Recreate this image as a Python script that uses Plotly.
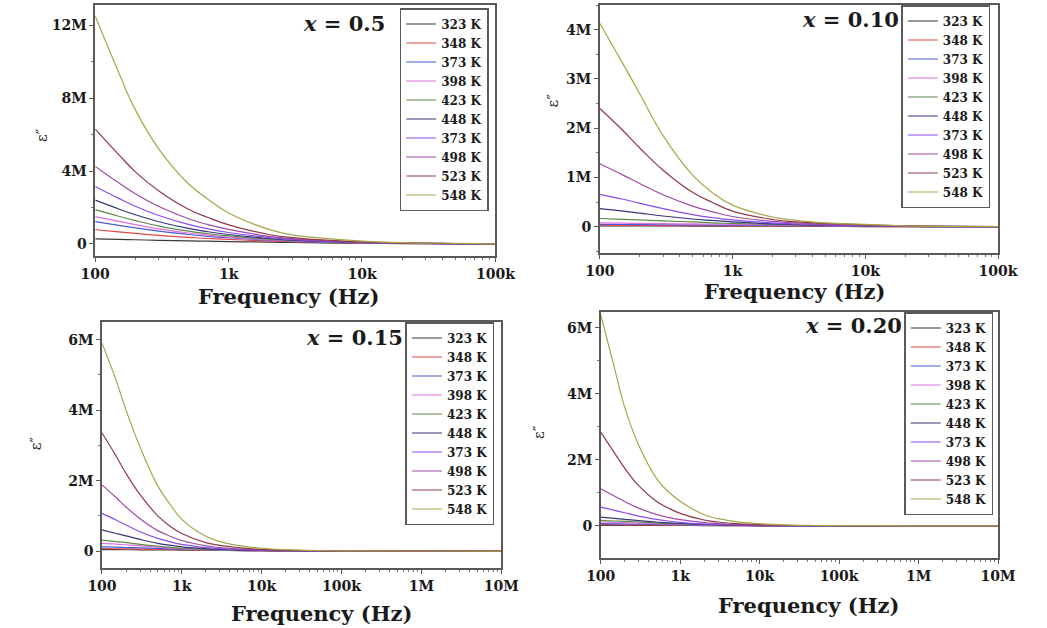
import plotly.graph_objects as go

# ---------------- data (values in millions) ----------------
LABELS = ["323 K", "348 K", "373 K", "398 K", "423 K", "448 K", "373 K", "498 K", "523 K", "548 K"]
COLORS = ["#3a3a3a", "#e04848", "#4a5ad8", "#e070e0", "#5f8a4a", "#36367a",
          "#8a4cf0", "#a04aa8", "#8e3a48", "#a6a64a"]

FREQ_A = [100, 150, 200, 300, 500, 700, 1e3, 2e3, 3e3, 5e3, 1e4, 2e4, 5e4, 1e5]
FREQ_B = [100, 150, 200, 300, 500, 700, 1e3, 2e3, 3e3, 5e3, 1e4, 2e4, 5e4, 1e5, 1e6, 1e7]

# x = 0.5
p1_323 = [0.28, 0.25, 0.23, 0.2, 0.17, 0.15, 0.13, 0.1, 0.08, 0.06, 0.04, 0.02, 0.01, 0.005]
p1_348 = [0.78, 0.66, 0.58, 0.47, 0.36, 0.3, 0.25, 0.16, 0.12, 0.09, 0.05, 0.03, 0.015, 0.01]
p1_373 = [1.22, 1.02, 0.88, 0.7, 0.52, 0.42, 0.34, 0.21, 0.15, 0.1, 0.06, 0.03, 0.015, 0.01]
p1_398 = [1.5, 1.24, 1.06, 0.83, 0.6, 0.48, 0.38, 0.23, 0.17, 0.12, 0.07, 0.04, 0.02, 0.01]
p1_423 = [1.88, 1.52, 1.28, 0.98, 0.7, 0.56, 0.44, 0.26, 0.19, 0.13, 0.07, 0.04, 0.02, 0.01]
p1_448 = [2.4, 1.92, 1.6, 1.22, 0.85, 0.67, 0.52, 0.3, 0.21, 0.14, 0.08, 0.04, 0.02, 0.01]
p1_473 = [3.15, 2.5, 2.07, 1.56, 1.07, 0.83, 0.63, 0.35, 0.25, 0.16, 0.09, 0.04, 0.02, 0.01]
p1_498 = [4.25, 3.35, 2.75, 2.05, 1.38, 1.06, 0.8, 0.42, 0.29, 0.19, 0.1, 0.05, 0.02, 0.01]
p1_523 = [6.3, 4.9, 3.95, 2.9, 1.9, 1.45, 1.05, 0.52, 0.35, 0.22, 0.11, 0.05, 0.02, 0.01]
p1_548 = [12.5, 9.4, 7.35, 5.2, 3.3, 2.45, 1.7, 0.8, 0.5, 0.32, 0.16, 0.07, 0.03, 0.01]

# x = 0.10
p2_323 = [0.02, 0.02, 0.019, 0.018, 0.017, 0.016, 0.015, 0.013, 0.011, 0.009, 0.006, 0.004, 0.002, 0.001]
p2_348 = [0.03, 0.029, 0.028, 0.027, 0.025, 0.024, 0.022, 0.018, 0.016, 0.013, 0.009, 0.005, 0.003, 0.001]
p2_373 = [0.05, 0.048, 0.046, 0.043, 0.04, 0.037, 0.034, 0.028, 0.024, 0.02, 0.012, 0.007, 0.003, 0.002]
p2_398 = [0.08, 0.075, 0.07, 0.065, 0.06, 0.055, 0.05, 0.04, 0.03, 0.025, 0.015, 0.008, 0.004, 0.002]
p2_423 = [0.17, 0.15, 0.14, 0.12, 0.1, 0.08, 0.07, 0.05, 0.04, 0.03, 0.02, 0.01, 0.005, 0.002]
p2_448 = [0.37, 0.32, 0.28, 0.22, 0.16, 0.13, 0.1, 0.06, 0.045, 0.03, 0.02, 0.01, 0.005, 0.003]
p2_473 = [0.66, 0.56, 0.48, 0.37, 0.25, 0.19, 0.14, 0.08, 0.06, 0.04, 0.025, 0.012, 0.006, 0.003]
p2_498 = [1.28, 1.05, 0.88, 0.65, 0.42, 0.31, 0.21, 0.11, 0.08, 0.05, 0.03, 0.015, 0.008, 0.004]
p2_523 = [2.4, 1.95, 1.6, 1.15, 0.7, 0.5, 0.32, 0.15, 0.1, 0.07, 0.04, 0.02, 0.01, 0.005]
p2_548 = [4.13, 3.3, 2.7, 1.85, 1.05, 0.7, 0.44, 0.2, 0.13, 0.08, 0.05, 0.02, 0.01, 0.005]

# x = 0.15
p3_323 = [0.04, 0.039, 0.038, 0.036, 0.033, 0.031, 0.029, 0.023, 0.019, 0.014, 0.009, 0.005, 0.002, 0.001, 0.0005, 0.0003]
p3_348 = [0.07, 0.066, 0.063, 0.058, 0.05, 0.045, 0.04, 0.03, 0.024, 0.016, 0.01, 0.006, 0.003, 0.001, 0.0005, 0.0003]
p3_373 = [0.12, 0.11, 0.1, 0.09, 0.075, 0.065, 0.055, 0.038, 0.028, 0.018, 0.011, 0.006, 0.003, 0.002, 0.001, 0.0005]
p3_398 = [0.22, 0.2, 0.18, 0.15, 0.11, 0.09, 0.07, 0.045, 0.032, 0.02, 0.012, 0.007, 0.003, 0.002, 0.001, 0.0005]
p3_423 = [0.31, 0.27, 0.24, 0.19, 0.14, 0.11, 0.08, 0.05, 0.035, 0.022, 0.013, 0.008, 0.004, 0.002, 0.001, 0.0005]
p3_448 = [0.6, 0.5, 0.43, 0.33, 0.22, 0.17, 0.12, 0.07, 0.05, 0.03, 0.018, 0.01, 0.005, 0.002, 0.001, 0.0005]
p3_473 = [1.07, 0.88, 0.74, 0.55, 0.36, 0.27, 0.19, 0.1, 0.07, 0.045, 0.025, 0.013, 0.006, 0.003, 0.001, 0.0005]
p3_498 = [1.88, 1.52, 1.25, 0.92, 0.58, 0.43, 0.3, 0.15, 0.1, 0.06, 0.035, 0.018, 0.008, 0.004, 0.001, 0.0005]
p3_523 = [3.35, 2.7, 2.2, 1.6, 1.0, 0.72, 0.5, 0.24, 0.16, 0.1, 0.05, 0.025, 0.01, 0.005, 0.001, 0.0005]
p3_548 = [5.9, 4.85, 4.0, 2.95, 1.85, 1.35, 0.9, 0.42, 0.27, 0.16, 0.08, 0.04, 0.015, 0.008, 0.002, 0.001]

# x = 0.20
p4_323 = [0.02, 0.019, 0.019, 0.018, 0.017, 0.016, 0.015, 0.012, 0.01, 0.008, 0.005, 0.003, 0.0015, 0.001, 0.0005, 0.0003]
p4_348 = [0.04, 0.038, 0.036, 0.034, 0.03, 0.027, 0.024, 0.018, 0.015, 0.011, 0.007, 0.004, 0.002, 0.001, 0.0005, 0.0003]
p4_373 = [0.07, 0.066, 0.062, 0.056, 0.048, 0.042, 0.036, 0.026, 0.02, 0.014, 0.009, 0.005, 0.002, 0.001, 0.0005, 0.0003]
p4_398 = [0.12, 0.11, 0.1, 0.088, 0.07, 0.06, 0.05, 0.033, 0.025, 0.017, 0.01, 0.006, 0.003, 0.001, 0.0005, 0.0003]
p4_423 = [0.17, 0.15, 0.14, 0.12, 0.09, 0.075, 0.06, 0.038, 0.028, 0.019, 0.011, 0.006, 0.003, 0.002, 0.001, 0.0005]
p4_448 = [0.27, 0.23, 0.2, 0.16, 0.12, 0.095, 0.075, 0.045, 0.033, 0.022, 0.013, 0.007, 0.003, 0.002, 0.001, 0.0005]
p4_473 = [0.57, 0.47, 0.4, 0.3, 0.2, 0.15, 0.11, 0.06, 0.045, 0.03, 0.017, 0.009, 0.004, 0.002, 0.001, 0.0005]
p4_498 = [1.13, 0.9, 0.74, 0.54, 0.35, 0.26, 0.19, 0.1, 0.07, 0.045, 0.025, 0.013, 0.006, 0.003, 0.001, 0.0005]
p4_523 = [2.84, 2.2, 1.75, 1.22, 0.75, 0.55, 0.38, 0.18, 0.12, 0.07, 0.04, 0.02, 0.01, 0.005, 0.001, 0.0005]
p4_548 = [6.4, 4.75, 3.6, 2.45, 1.45, 1.05, 0.75, 0.34, 0.22, 0.13, 0.07, 0.035, 0.015, 0.008, 0.002, 0.001]

PANEL_TITLES = ["<i>x</i> = 0.5", "<i>x</i> = 0.10", "<i>x</i> = 0.15", "<i>x</i> = 0.20"]
XTICK_VALS_A = [100, 1e3, 1e4, 1e5]
XTICK_TEXT_A = ["100", "1k", "10k", "100k"]
XTICK_VALS_B = [100, 1e3, 1e4, 1e5, 1e6, 1e7]
XTICK_TEXT_B = ["100", "1k", "10k", "100k", "1M", "10M"]
YTICK_VALS = [[0, 4, 8, 12], [0, 1, 2, 3, 4], [0, 2, 4, 6], [0, 2, 4, 6]]
YTICK_TEXT = [["0", "4M", "8M", "12M"], ["0", "1M", "2M", "3M", "4M"],
              ["0", "2M", "4M", "6M"], ["0", "2M", "4M", "6M"]]

# ---------------- layout geometry (pixels) ----------------
W, H = 1047, 628
FONT = "DejaVu Serif"
TXT = "#1a1a1a"

panels = [
    dict(series=[p1_323, p1_348, p1_373, p1_398, p1_423, p1_448, p1_473, p1_498, p1_523, p1_548],
         freq=FREQ_A, xr=[2, 5], yr=[-0.66, 13.1], box=(83, 497, 5, 256), ydt=2,
         xtv=XTICK_VALS_A, xtt=XTICK_TEXT_A, leg=(398, 8), title=(340, 23),
         xt=(283, 296), yt=(28, 135)),
    dict(series=[p2_323, p2_348, p2_373, p2_398, p2_423, p2_448, p2_473, p2_498, p2_523, p2_548],
         freq=FREQ_A, xr=[2, 5], yr=[-0.53, 4.5], box=(605, 1017, 5, 253), ydt=0.5,
         xtv=XTICK_VALS_A, xtt=XTICK_TEXT_A, leg=(917, 5), title=(864, 20),
         xt=(806, 291), yt=(557, 100)),
    dict(series=[p3_323, p3_348, p3_373, p3_398, p3_423, p3_448, p3_473, p3_498, p3_523, p3_548],
         freq=FREQ_B, xr=[2, 7], yr=[-0.48, 6.5], box=(90, 503, 322, 568), ydt=1,
         xtv=XTICK_VALS_B, xtt=XTICK_TEXT_B, leg=(404, 322), title=(351, 337),
         xt=(317, 613), yt=(22, 443)),
    dict(series=[p4_323, p4_348, p4_373, p4_398, p4_423, p4_448, p4_473, p4_498, p4_523, p4_548],
         freq=FREQ_B, xr=[2, 7], yr=[-0.97, 6.48], box=(606, 1017, 312, 558), ydt=1,
         xtv=XTICK_VALS_B, xtt=XTICK_TEXT_B, leg=(920, 312), title=(867, 325),
         xt=(821, 605), yt=(542, 432)),
]

fig = go.Figure()
layout = dict(width=W, height=H, margin=dict(l=0, r=0, t=0, b=0),
              paper_bgcolor="white", plot_bgcolor="white", annotations=[])

for k, p in enumerate(panels):
    sfx = "" if k == 0 else str(k + 1)
    legname = "legend" + sfx
    for i, ys in enumerate(p["series"]):
        fig.add_trace(go.Scatter(
            x=p["freq"], y=ys, mode="lines", name=LABELS[i],
            line=dict(color=COLORS[i], width=1.2, shape="spline", smoothing=1.2),
            xaxis="x" + sfx, yaxis="y" + sfx, legend=legname, showlegend=True))
    x0, x1, y0, y1 = p["box"]
    axline = dict(showline=True, linecolor="#5a5a5a", linewidth=1.5, mirror=True,
                  showgrid=False, zeroline=False,
                  tickfont=dict(family=FONT, size=14, color=TXT, weight="bold"),
                  ticks="outside", ticklen=4, tickcolor="#5a5a5a", tickwidth=1)
    layout["xaxis" + sfx] = dict(axline, type="log", range=p["xr"],
                                 domain=[x0 / W, x1 / W], anchor="y" + sfx,
                                 tickmode="array", tickvals=p["xtv"], ticktext=p["xtt"],
                                 minor=dict(ticks="outside", ticklen=2, tickcolor="#777", dtick="D1"))
    layout["yaxis" + sfx] = dict(axline, range=p["yr"],
                                 domain=[1 - y1 / H, 1 - y0 / H], anchor="x" + sfx,
                                 tickmode="array", tickvals=YTICK_VALS[k], ticktext=YTICK_TEXT[k],
                                 minor=dict(ticks="outside", ticklen=2, tickcolor="#777",
                                            tick0=0, dtick=p["ydt"]))
    lx, ly = p["leg"]
    layout[legname] = dict(x=lx / W, y=1 - ly / H, xanchor="left", yanchor="top",
                           bgcolor="white", bordercolor="#5a5a5a", borderwidth=1.5,
                           font=dict(family=FONT, size=12, color=TXT, weight="bold"),
                           tracegroupgap=0, itemwidth=30)
    tx, ty = p["title"]
    layout["annotations"].append(dict(
        x=tx / W, y=1 - ty / H, xref="paper", yref="paper", text=PANEL_TITLES[k],
        showarrow=False, xanchor="center", yanchor="middle",
        font=dict(family=FONT, size=21, color=TXT, weight="bold")))
    fx, fy = p["xt"]
    layout["annotations"].append(dict(
        x=fx / W, y=1 - fy / H, xref="paper", yref="paper", text="Frequency (Hz)",
        showarrow=False, xanchor="center", yanchor="middle",
        font=dict(family=FONT, size=21, color=TXT, weight="bold")))
    ex, ey = p["yt"]
    layout["annotations"].append(dict(
        x=ex / W, y=1 - ey / H, xref="paper", yref="paper", text="ε″",
        showarrow=False, xanchor="center", yanchor="middle", textangle=-90,
        font=dict(family=FONT, size=15, color=TXT)))

fig.update_layout(**layout)
fig.write_html("out.html")
